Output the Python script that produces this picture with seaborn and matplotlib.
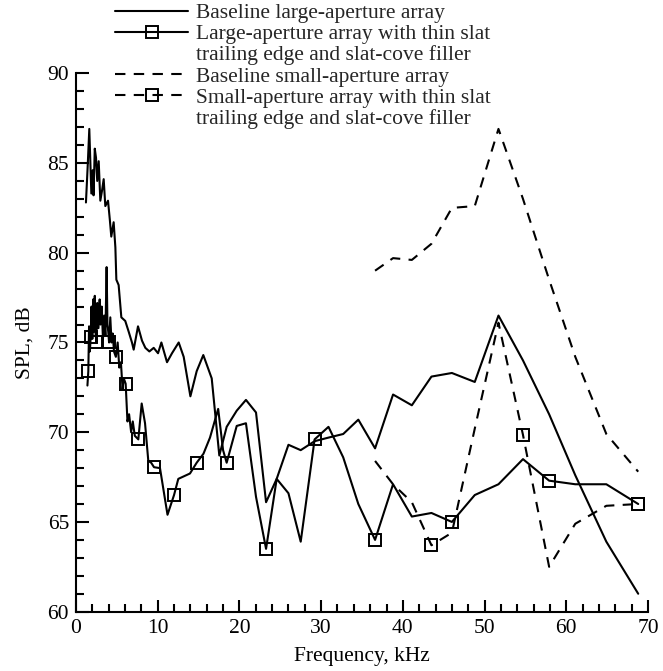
import matplotlib
matplotlib.use("Agg")
import matplotlib.pyplot as plt
from matplotlib.lines import Line2D
from matplotlib.ticker import MultipleLocator
import seaborn as sns

# Baseline large-aperture array
freq_base_large = [1.22, 1.45, 1.63, 1.88, 2.05, 2.15, 2.3, 2.45, 2.6, 2.78, 2.98, 3.2,
                   3.39, 3.59, 3.92, 4.15, 4.32, 4.61, 4.82, 4.94, 5.22, 5.55, 6.03, 6.45,
                   6.85, 7.06, 7.59, 8.08, 8.49, 8.98, 9.51, 10.04, 10.45, 11.14, 11.75,
                   12.57, 13.18, 14.0, 14.77, 15.58, 16.61, 17.54, 18.44, 19.67, 20.8,
                   22.03, 23.26, 24.56, 26.0, 27.5, 29.2, 30.9, 32.7, 34.55, 36.6, 38.8,
                   41.1, 43.5, 46.0, 48.8, 51.7, 54.7, 57.9, 61.1, 64.9, 68.8]
spl_base_large = [82.8, 85.0, 86.9, 83.3, 84.6, 83.2, 85.8, 85.3, 84.0, 85.1, 82.9, 83.5,
                  84.1, 82.6, 82.9, 81.8, 80.9, 81.7, 80.3, 78.5, 78.2, 76.4, 76.2, 75.6,
                  75.0, 74.6, 75.9, 75.1, 74.7, 74.5, 74.7, 74.4, 75.0, 73.9, 74.4,
                  75.0, 74.2, 72.0, 73.4, 74.3, 73.0, 68.7, 70.3, 71.2, 71.8,
                  71.1, 66.1, 67.4, 69.3, 69.0, 69.5, 69.7, 69.9, 70.7, 69.1, 72.1,
                  71.5, 73.1, 73.3, 72.8, 76.5, 74.0, 71.0, 67.6, 63.9, 61.0]

# Large-aperture array with thin slat trailing edge and slat-cove filler
freq_treat_large = [1.40, 1.51, 1.6, 1.7, 1.80, 1.9, 2.0, 2.1, 2.2, 2.3, 2.4, 2.5, 2.6,
                    2.75, 2.9, 3.0, 3.15, 3.3, 3.45, 3.6, 3.75, 3.85, 3.95, 4.05, 4.2,
                    4.35, 4.5, 4.65, 4.88, 5.1, 5.3, 5.5, 5.7, 5.85, 6.08, 6.3, 6.5,
                    6.75, 6.95, 7.2, 7.63, 8.04, 8.45, 8.85, 9.2, 9.55, 10.28, 11.2,
                    12.0, 12.52, 13.95, 14.77, 15.6, 16.4, 17.4, 18.0, 18.44, 19.67,
                    20.8, 22.03, 23.26, 24.56, 26.0, 27.5, 29.2, 30.9, 32.7, 34.55,
                    36.6, 38.8, 41.1, 43.5, 46.0, 48.8, 51.7, 54.7, 57.9, 61.1, 64.9, 68.8]
spl_treat_large = [72.6, 73.4, 75.9, 74.5, 75.3, 77.0, 75.2, 77.4, 75.6, 77.6, 75.5, 75.0,
                   77.2, 75.8, 77.4, 76.0, 77.0, 75.2, 76.5, 75.4, 79.2, 76.0, 75.6, 75.0,
                   76.4, 75.0, 75.5, 74.5, 74.2, 75.0, 73.6, 73.9, 72.4, 73.0, 72.7,
                   70.6, 71.0, 70.0, 70.6, 69.8, 69.6, 71.6, 70.5, 68.4, 68.3, 68.05,
                   68.0, 65.4, 66.5, 67.4, 67.7, 68.3, 68.8, 69.7, 71.3, 69.0, 68.3,
                   70.35, 70.5, 66.4, 63.5, 67.4, 66.6, 63.9, 69.6, 70.3, 68.6, 66.0,
                   64.0, 67.1, 65.3, 65.5, 65.0, 66.5, 67.1, 68.5, 67.3, 67.1, 67.1, 66.0]
marks_treat_large = [1, 4, 11, 23, 28, 34, 40, 45, 48, 51, 56, 60, 64, 68, 72, 76, 79]

# Baseline small-aperture array
freq_base_small = [36.6, 38.8, 41.1, 43.5, 46.0, 48.8, 51.7, 54.7, 57.9, 61.1, 64.9, 68.8]
spl_base_small = [79.0, 79.7, 79.6, 80.5, 82.5, 82.6, 86.9, 83.0, 78.5, 74.2, 69.9, 67.8]

# Small-aperture array with thin slat trailing edge and slat-cove filler
freq_treat_small = [36.6, 38.8, 41.1, 43.5, 46.0, 48.8, 51.7, 54.7, 57.9, 61.1, 64.9, 68.8]
spl_treat_small = [68.4, 67.1, 66.1, 63.7, 64.4, 70.2, 76.1, 69.85, 62.5, 64.9, 65.9, 66.0]
marks_treat_small = [3, 7, 11]

legend_labels = [
    "Baseline large-aperture array",
    "Large-aperture array with thin slat",
    "trailing edge and slat-cove filler",
    "Baseline small-aperture array",
    "Small-aperture array with thin slat",
    "trailing edge and slat-cove filler",
]

sns.set_theme(style="ticks")
plt.rcParams["font.family"] = ["Liberation Serif", "DejaVu Serif"]

FS = 15.5
LW = 1.5
DASH = (0, (5, 4))
MK = dict(marker="s", markersize=9, markerfacecolor="none",
          markeredgecolor="black", markeredgewidth=1.4)

fig = plt.figure(figsize=(6.63, 6.71), dpi=100)
ax = fig.add_axes([0.1146, 0.0884, 0.8628, 0.8024])

sns.lineplot(x=freq_base_large, y=spl_base_large, ax=ax, color="black", lw=LW,
             estimator=None, sort=False)
sns.lineplot(x=freq_treat_large, y=spl_treat_large, ax=ax, color="black", lw=LW,
             estimator=None, sort=False, markevery=marks_treat_large, **MK)
sns.lineplot(x=freq_base_small, y=spl_base_small, ax=ax, color="black", lw=LW,
             estimator=None, sort=False, linestyle=DASH)
sns.lineplot(x=freq_treat_small, y=spl_treat_small, ax=ax, color="black", lw=LW,
             estimator=None, sort=False, linestyle=DASH,
             markevery=marks_treat_small, **MK)

ax.set_xlim(0, 70)
ax.set_ylim(60, 90)
ax.xaxis.set_major_locator(MultipleLocator(10))
ax.xaxis.set_minor_locator(MultipleLocator(2))
ax.yaxis.set_major_locator(MultipleLocator(5))
ax.yaxis.set_minor_locator(MultipleLocator(1))
ax.tick_params(which="both", direction="in", width=1.5, color="black",
               labelsize=FS, labelcolor="black", pad=5)
ax.tick_params(which="major", length=9)
ax.tick_params(which="minor", length=6)
for side in ("top", "right"):
    ax.spines[side].set_visible(False)
for side in ("left", "bottom"):
    ax.spines[side].set_linewidth(1.5)
    ax.spines[side].set_color("black")
ax.set_facecolor("white")

ax.set_xlabel("Frequency, kHz", fontsize=FS, color="black")
ax.set_ylabel("SPL, dB", fontsize=FS, color="black")
ax.xaxis.set_label_coords(0.5, -0.066)
ax.yaxis.set_label_coords(-0.072, 0.5)

handles = [
    Line2D([], [], color="black", lw=LW),
    Line2D([], [], color="black", lw=LW, **MK),
    Line2D([], [], linestyle="none"),
    Line2D([], [], color="black", lw=LW, linestyle=DASH),
    Line2D([], [], color="black", lw=LW, linestyle=DASH, **MK),
    Line2D([], [], linestyle="none"),
]
fig.legend(handles, legend_labels, loc="upper left",
           bbox_to_anchor=(115 / 663, 1 - 3 / 671), frameon=False,
           fontsize=FS, borderpad=0, borderaxespad=0, handlelength=3.4,
           handletextpad=0.35, labelspacing=0.05, markerscale=1.0)

fig.savefig("out.png", dpi=100, facecolor="white")
